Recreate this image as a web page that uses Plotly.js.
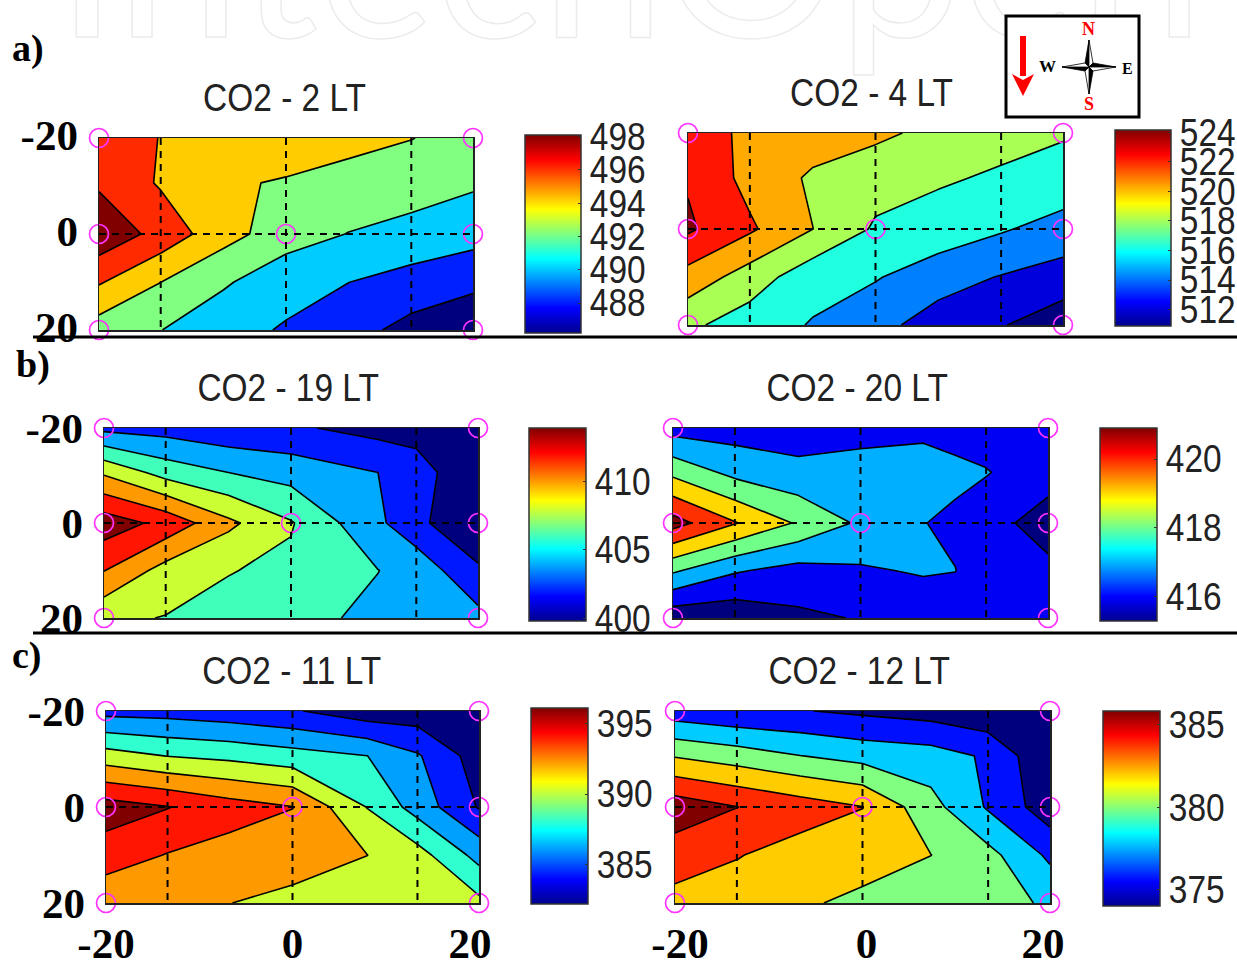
<!DOCTYPE html>
<html>
<head>
<meta charset="utf-8">
<script src="https://cdn.plot.ly/plotly-3.0.1.min.js"></script>
<style>html,body{margin:0;padding:0;background:#fff}#chart{width:1237px;height:963px}</style>
</head>
<body>
<div id="chart"></div>
<script>
// ---------- data ----------
const northSouth = [-20, -10.65, 0, 10, 20];
const eastWestA1 = [-20, -13.4, -6.7, 0, 6.7, 13.4, 20];
const eastWestA2 = [-20, -13.4, -6.7, 0, 6.7, 13.4, 20];
const eastWestB1 = [-20, -13.4, -6.7, 0, 9.3, 13.4, 20];
const eastWestB2 = [-20, -13.3, -6.65, 0, 6.7, 10.1, 13.3, 20];
const eastWestC1 = [-20, -13.5, -6.8, 0, 8, 13.4, 20];
const eastWestC2 = [-20, -13.3, -6.65, 0, 7.3, 13.3, 20];

const co2Lt2 = [
  [497.2, 495.94, 495.4, 495.3, 494.46, 494.04, 493.4],
  [497.7, 495.78, 494.3, 493.8, 493.46, 493.12, 492.26],
  [499.46, 497.32, 494.74, 492.98, 491.94, 491.2, 490.8],
  [496.2, 494.02, 492.28, 490.62, 490.02, 489.32, 488.38],
  [493, 492.04, 490.6, 489.84, 488.82, 487.3, 486.8]
];
const co2Lt4 = [
  [523.4, 521.98, 521.4, 520.82, 519.84, 519.02, 518.56],
  [524.2, 521.76, 520.1, 519.2, 518.62, 518.16, 517.72],
  [524.7, 522.7, 520.42, 518.14, 517.64, 516.6, 515.6],
  [521.64, 519.46, 517.12, 516.56, 515.2, 514.3, 513.56],
  [518.8, 517.4, 516.26, 515, 513.54, 512.54, 511.14]
];
const co2Lt19 = [
  [403.4, 403.08, 402.4, 402.2, 401.2, 401.2, 398.9],
  [409.6, 407.1, 405.9, 405.1, 403.9, 402.7, 400.38],
  [415, 413.3, 410.34, 408.06, 404.2, 402.82, 398.56],
  [411.96, 409.1, 407.98, 407.5, 405.94, 404.94, 402.52],
  [408.28, 407.82, 407.3, 406.7, 405.32, 405.2, 404.4]
];
const co2Lt20 = [
  [416.6, 416.55, 416.52, 416.65, 416.69, 416.6, 416.55, 416.5],
  [418.75, 417.7, 417.27, 417.4, 417.6, 417.25, 417.06, 416.47],
  [421.4, 420.05, 418.88, 417.84, 417.03, 416.78, 416.45, 415.5],
  [418.15, 417.1, 416.65, 416.88, 417.1, 417.02, 416.45, 416.27],
  [415.3, 415.3, 415.8, 416.06, 416.3, 416.35, 416.45, 416.4]
];
const co2Lt11 = [
  [385.34, 385.2, 384.8, 384.2, 382.8, 382.84, 381],
  [390.9, 389.96, 389.5, 388.8, 388.02, 386.22, 383.02],
  [396.9, 396.1, 394.9, 394.06, 389.94, 387.16, 383.84],
  [395.12, 393.92, 393.22, 392.6, 392.02, 390.8, 387.3],
  [392.4, 392.6, 392.02, 391.64, 390.8, 390.2, 390.5]
];
const co2Lt12 = [
  [376.9, 376.3, 376.1, 375.64, 375.16, 374.48, 373],
  [381.86, 381, 380.04, 379.3, 378.88, 377.74, 374.2],
  [387.16, 386.02, 385, 384.04, 380.7, 377.82, 374.84],
  [385.02, 384.1, 383.16, 383, 382.02, 380.68, 377.6],
  [383.32, 383, 382.32, 381.48, 380.6, 381, 379.64]
];

// measurement sites drawn as magenta circles
const siteEW = [-20, 20, -20, 0, 20, -20, 20];
const siteNS = [-20, -20, 0, 0, 0, 20, 20];

const axisTicks = [-20, 0, 20];
const axisTickText = ['-20', '0', '20'];

const bandsA1 = ['#00007f', '#0020ff', '#00ccff', '#80ff80', '#ffcc00', '#ff2a00', '#800000'];
const bandsA2 = ['#00007f', '#0000dd', '#0080ff', '#20ffdf', '#aaff55', '#ffaa00', '#ff1500', '#800000'];
const bandsB1 = ['#00007f', '#0018ff', '#00aaff', '#40ffbb', '#ccff33', '#ff9900', '#ff1500', '#800000'];
const bandsB2 = ['#00007f', '#0000f5', '#00afff', '#70ff88', '#ffd800', '#ff3000', '#800000'];
const bandsC1 = ['#00007f', '#0018ff', '#00a0ff', '#30ffcf', '#ccff33', '#ff9900', '#ff1500', '#800000'];
const bandsC2 = ['#00007f', '#0010ff', '#00ccff', '#80ff80', '#ffcc00', '#ff2a00', '#800000'];

const jet = [[0,'#00008f'],[0.125,'#0000ff'],[0.375,'#00ffff'],[0.625,'#ffff00'],[0.875,'#ff0000'],[1,'#800000']];

const W = 1237, H = 963;
const px = v => v / W, py = v => 1 - v / H;

const panels = [
  {t:'CO2 - 2 LT',  ew:eastWestA1, z:co2Lt2,  start:488,   size:2, bands:bandsA1, box:[99,473,138,330],  tx:284, ty:98,
   cb:[525,581,135,333], cr:[486.2,498.1], ticks:[488,490,492,494,496,498]},
  {t:'CO2 - 4 LT',  ew:eastWestA2, z:co2Lt4,  start:512.4, size:2, bands:bandsA2, box:[688,1063,133,325], tx:871, ty:93,
   cb:[1115,1171,130,326], cr:[510.9,524.15], ticks:[512,514,516,518,520,522,524]},
  {t:'CO2 - 19 LT', ew:eastWestB1, z:co2Lt19, start:401.9, size:2, bands:bandsB1, box:[104,478,428,618], tx:288, ty:388,
   cb:[529,586,428,621], cr:[399.8,413.9], ticks:[400,405,410]},
  {t:'CO2 - 20 LT', ew:eastWestB2, z:co2Lt20, start:416,   size:1, bands:bandsB2, box:[673,1048,428,618], tx:857, ty:388,
   cb:[1100,1157,428,621], cr:[415.3,420.9], ticks:[416,418,420]},
  {t:'CO2 - 11 LT', ew:eastWestC1, z:co2Lt11, start:384,   size:2, bands:bandsC1, box:[106,479,711,903], tx:291, ty:671,
   cb:[531,588,708,904], cr:[382.2,396.1], ticks:[385,390,395]},
  {t:'CO2 - 12 LT', ew:eastWestC2, z:co2Lt12, start:376,   size:2, bands:bandsC2, box:[675,1050,711,903], tx:859, ty:671,
   cb:[1103,1160,711,906], cr:[374,385.85], ticks:[375,380,385]}
];

const sans = '"Liberation Sans",Arial,sans-serif';
const serif = '"Liberation Serif","Times New Roman",serif';

const traces = [], shapes = [], annotations = [];
const layout = {
  width: W, height: H, margin: {l:0, r:0, t:0, b:0, autoexpand:false}, paper_bgcolor:'#fff', plot_bgcolor:'#fff',
  showlegend:false, shapes, annotations
};

panels.forEach((p, i) => {
  const n = i ? i + 1 : '';
  const xa = 'x' + n, ya = 'y' + n;
  const bottomRow = i >= 4;
  traces.push({
    type:'contour', x:p.ew, y:northSouth, z:p.z, xaxis:xa, yaxis:ya,
    contours:{coloring:'fill', showlines:true, start:p.start, size:p.size, end:p.start + p.size * (p.bands.length - 2)},
    line:{color:'#000', width:1.6, smoothing:0},
    colorscale:p.bands.map((c, k) => [k / (p.bands.length - 1), c]),
    showscale:false, hoverinfo:'skip'
  });
  traces.push({
    type:'scatter', mode:'markers', x:siteEW, y:siteNS, xaxis:xa, yaxis:ya, cliponaxis:false,
    marker:{symbol:'circle-open', size:19, color:'#ff33ff', line:{width:1.7, color:'#ff33ff'}}, hoverinfo:'skip'
  });
  // carrier of the continuous colour bar
  traces.push({
    type:'scatter', mode:'markers', x:[0], y:[0], xaxis:xa, yaxis:ya, hoverinfo:'skip',
    marker:{size:1, opacity:0, color:[p.cr[0]], cmin:p.cr[0], cmax:p.cr[1], colorscale:jet, showscale:true,
      colorbar:{
        x:px(p.cb[0]), xanchor:'left', xpad:0, y:py(p.cb[3]), yanchor:'bottom', ypad:0,
        thicknessmode:'pixels', thickness:p.cb[1]-p.cb[0], lenmode:'pixels', len:p.cb[3]-p.cb[2],
        outlinecolor:'#333', outlinewidth:1.5, borderwidth:0, tickmode:'array', tickvals:p.ticks,
        ticks:'inside', ticklen:3, tickcolor:'#333', tickfont:{family:sans, size:38, color:'#222'}
      }}
  });
  layout['xaxis' + n] = {
    domain:[px(p.box[0]), px(p.box[1])], range:[-20,20], anchor:ya, showgrid:false, zeroline:false,
    showline:true, mirror:true, linecolor:'#222', linewidth:1.5, ticks:'',
    tickmode:'array', tickvals:axisTicks, ticktext:axisTickText, showticklabels:bottomRow, ticklabelstandoff:2,
    tickfont:{family:serif, size:43, color:'#000', weight:700}
  };
  layout['yaxis' + n] = {
    domain:[py(p.box[3]), py(p.box[2])], range:[20,-20], anchor:xa, showgrid:false, zeroline:false,
    showline:true, mirror:true, linecolor:'#222', linewidth:1.5, ticks:'',
    tickmode:'array', tickvals:axisTicks, ticktext:axisTickText, showticklabels:i % 2 === 0, ticklabelstandoff:11,
    tickfont:{family:serif, size:43, color:'#000', weight:700}
  };
  // dashed guide lines
  const guide = {color:'#000', width:2, dash:'7px,6px'};
  [-13.4, 0, 13.4].forEach(v => shapes.push({type:'line', xref:xa, yref:ya, x0:v, x1:v, y0:-20, y1:20, line:guide}));
  shapes.push({type:'line', xref:xa, yref:ya, x0:-20, x1:20, y0:0, y1:0, line:guide});
  annotations.push({xref:'paper', yref:'paper', x:px(p.tx), y:py(p.ty), xanchor:'center', yanchor:'middle', showarrow:false,
    text:p.t, font:{family:sans, size:38, color:'#222'}});
});

// panel letters
[['a)',28,48],['b)',33,364],['c)',27,655]].forEach(l => annotations.push({
  xref:'paper', yref:'paper', x:px(l[1]), y:py(l[2]), xanchor:'center', yanchor:'middle', showarrow:false,
  text:l[0], font:{family:serif, size:38, color:'#000', weight:700}}));

// row separators
[337, 633].forEach(v => shapes.push({type:'line', xref:'paper', yref:'paper', x0:px(33), x1:1, y0:py(v), y1:py(v), line:{color:'#000', width:3}}));

// compass
const poly = pts => 'M' + pts.map(q => px(q[0]) + ',' + py(q[1])).join('L') + 'Z';
shapes.push({type:'rect', xref:'paper', yref:'paper', x0:px(1006), x1:px(1139), y0:py(16), y1:py(117), fillcolor:'#fff', line:{color:'#000', width:3}});
const cx = 1089, cy = 67, r = 27, q = 4;
const arms = [
  [[cx,cy-r],[cx-q,cy-q],[cx,cy]], [[cx,cy-r],[cx+q,cy-q],[cx,cy]],
  [[cx+r,cy],[cx+q,cy-q],[cx,cy]], [[cx+r,cy],[cx+q,cy+q],[cx,cy]],
  [[cx,cy+r],[cx+q,cy+q],[cx,cy]], [[cx,cy+r],[cx-q,cy+q],[cx,cy]],
  [[cx-r,cy],[cx-q,cy+q],[cx,cy]], [[cx-r,cy],[cx-q,cy-q],[cx,cy]]
];
arms.forEach((a, k) => shapes.push({type:'path', xref:'paper', yref:'paper', path:poly(a),
  fillcolor:(k % 2 === 0 ? '#000' : '#fff'), line:{color:'#000', width:0.8}}));
shapes.push({type:'rect', xref:'paper', yref:'paper', x0:px(1020), x1:px(1026), y0:py(36), y1:py(76), fillcolor:'#f00', line:{width:0}});
shapes.push({type:'path', xref:'paper', yref:'paper', path:poly([[1012,74],[1023,96],[1034,74],[1023,80]]), fillcolor:'#f00', line:{width:0}});
[['N',1088,29,'#f00',18],['S',1089,104,'#f00',18],['W',1047,67,'#000',17],['E',1127,68,'#000',16]].forEach(l =>
  annotations.push({xref:'paper', yref:'paper', x:px(l[1]), y:py(l[2]), xanchor:'center', yanchor:'middle', showarrow:false,
    text:l[0], font:{family:serif, size:l[4], color:l[3], weight:700}}));

// publisher watermark
annotations.push({xref:'paper', yref:'paper', x:px(630), y:py(38), xanchor:'center', yanchor:'bottom', yshift:-48, showarrow:false,
  text:'IntechOpen', font:{family:'Lato,"Open Sans",sans-serif', size:222, color:'#f0f0f0'}});

Plotly.newPlot('chart', traces, layout, {displayModeBar:false, staticPlot:true}).then(gd => {
  // the original lettering is a condensed sans: condense the real text in place
  const condense = t => {
    const w = t.getComputedTextLength();
    if (w > 0) { t.setAttribute('textLength', (w * 0.88).toFixed(1)); t.setAttribute('lengthAdjust', 'spacingAndGlyphs'); }
  };
  gd.querySelectorAll('.annotation-text').forEach(t => {
    if (t.textContent === 'IntechOpen') {
      t.style.fill = 'none';
      t.style.stroke = '#ececec';
      t.style.strokeWidth = '1.5px';
      // the watermark sits behind the chart and the compass box
      const g = t.closest('.annotation');
      const svg = gd.querySelector('.cartesianlayer').closest('svg');
      if (g && svg) svg.insertBefore(g, svg.firstChild);
    } else if (t.textContent.indexOf('CO2') === 0) condense(t);
  });
  gd.querySelectorAll('.colorbar text').forEach(condense);
  // small label offsets of the original figure
  gd.querySelectorAll('.subplot.xy .yaxislayer-above text').forEach(t => t.setAttribute('dy', '-3'));
  const xNudge = {x5: [0, 0, -9], x6: [5, 4, -7]};
  Object.keys(xNudge).forEach(id => {
    const sub = gd.querySelector('.subplot.' + id + 'y' + id.slice(1));
    if (!sub) return;
    sub.querySelectorAll('.xaxislayer-above text').forEach((t, k) => t.setAttribute('dx', xNudge[id][k] || 0));
  });
});
</script>
</body>
</html>
